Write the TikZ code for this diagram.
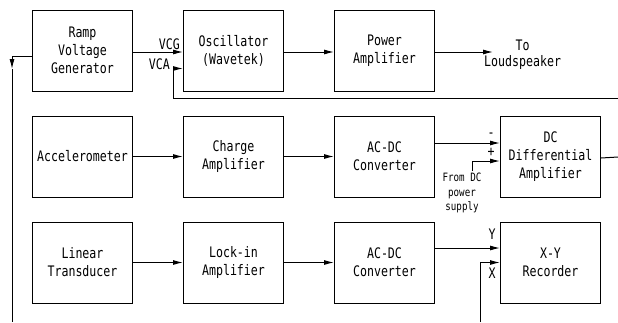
\documentclass[tikz,border=0pt]{standalone}
\usepackage{fontspec}
\setmainfont[FakeStretch=0.8]{DejaVu Sans Mono}
\usetikzlibrary{arrows.meta,positioning}

\begin{document}
\begin{tikzpicture}[
    x=1pt, y=-1pt,
    node distance=24pt and 50pt,
    block/.style={
        rectangle, draw=black, line width=1pt,
        minimum width=100pt, minimum height=81pt,
        font=\fontsize{14.5}{18}\selectfont, align=center, inner sep=1pt
    },
    arr/.style={-{Latex[length=10pt,width=5pt]}, line width=1pt},
    wire/.style={line width=1pt},
    lbl/.style={font=\fontsize{14.5}{16}\selectfont, inner sep=1pt},
    note/.style={font=\fontsize{11.5}{14.5}\selectfont, align=center, inner sep=1pt}
]
\useasboundingbox (0,0) rectangle (618,322);
% Row 1 -- ramp, oscillator, power amplifier
\node[block] (ramp) at (82.5,50.5) {Ramp\\Voltage\\Generator};
\node[block, right=of ramp] (osc) {Oscillator\\(Wavetek)};
\node[block, right=of osc] (pamp) {Power\\Amplifier};
\node[lbl, align=center, anchor=west, inner sep=0pt] (spk) at (484,55) {To\\Loudspeaker};
% Row 2 -- accelerometer chain
\node[block, below=of ramp] (accel) {Accelerometer};
\node[block, right=of accel] (charge) {Charge\\Amplifier};
\node[block, right=of charge] (acdca) {AC-DC\\Converter};
\node[block, right=65pt of acdca] (diff) {DC\\Differential\\Amplifier};
% Row 3 -- transducer chain
\node[block, below=of accel] (lin) {Linear\\Transducer};
\node[block, right=of lin] (lock) {Lock-in\\Amplifier};
\node[block, right=of lock] (acdcb) {AC-DC\\Converter};
\node[block, right=65pt of acdcb] (xy) {X-Y\\Recorder};
% Free ends
\coordinate (spkin) at (493,52);
\coordinate (fbin) at (618,98);
\coordinate (rdn) at (12,69);
\coordinate (rbot) at (12,322);
\coordinate (dcsup) at (472,171);
\coordinate (diffout) at (618,157);
\coordinate (xbot) at (480,322);
% Row 1 connectors
\draw[arr] ([yshift=-1.5pt]ramp.east) -- ([yshift=-1.5pt]osc.west);
\node[lbl, anchor=south east] (vcg) at ([xshift=-2pt,yshift=0pt]osc.west) {VCG};
\draw[arr] (fbin) -| ([xshift=-10pt,yshift=-18pt]osc.west) -- ([yshift=-18pt]osc.west);
\node[lbl, anchor=east] (vca) at ([xshift=-12pt,yshift=-13.5pt]osc.west) {VCA};
\draw[arr] ([yshift=-1.5pt]osc.east) -- ([yshift=-1.5pt]pamp.west);
\draw[arr] ([yshift=-1.5pt]pamp.east) -- (spkin);
\draw[arr] ([yshift=-6pt]ramp.west) -| (rdn);
\draw[wire] (rdn) -- (rbot);
% Row 2 connectors
\draw[arr] (accel) -- (charge);
\draw[arr] (charge) -- (acdca);
\draw[arr] ([yshift=13.5pt]acdca.east) -- ([yshift=13.5pt]diff.west);
\node[lbl] (minus) at ([xshift=-9pt,yshift=21pt]diff.west) {-};
\draw[arr] (dcsup) |- ([yshift=-4.5pt]diff.west);
\node[lbl] (plus) at ([xshift=-9pt,yshift=4pt]diff.west) {+};
\node[note, anchor=north] (dcnote) at (462,172) {From DC\\power\\supply};
\draw[wire] ([yshift=-1.5pt]diff.east) -- (diffout);
% Row 3 connectors
\draw[arr] (lin) -- (lock);
\draw[arr] (lock) -- (acdcb);
\draw[arr] ([yshift=14.5pt]acdcb.east) -- ([yshift=14.5pt]xy.west);
\node[lbl] (ylbl) at ([xshift=-8pt,yshift=28pt]xy.west) {Y};
\draw[arr] (xbot) |- (xy.west);
\node[lbl] (xlbl) at ([xshift=-8pt,yshift=-11pt]xy.west) {X};
\end{tikzpicture}
\end{document}
